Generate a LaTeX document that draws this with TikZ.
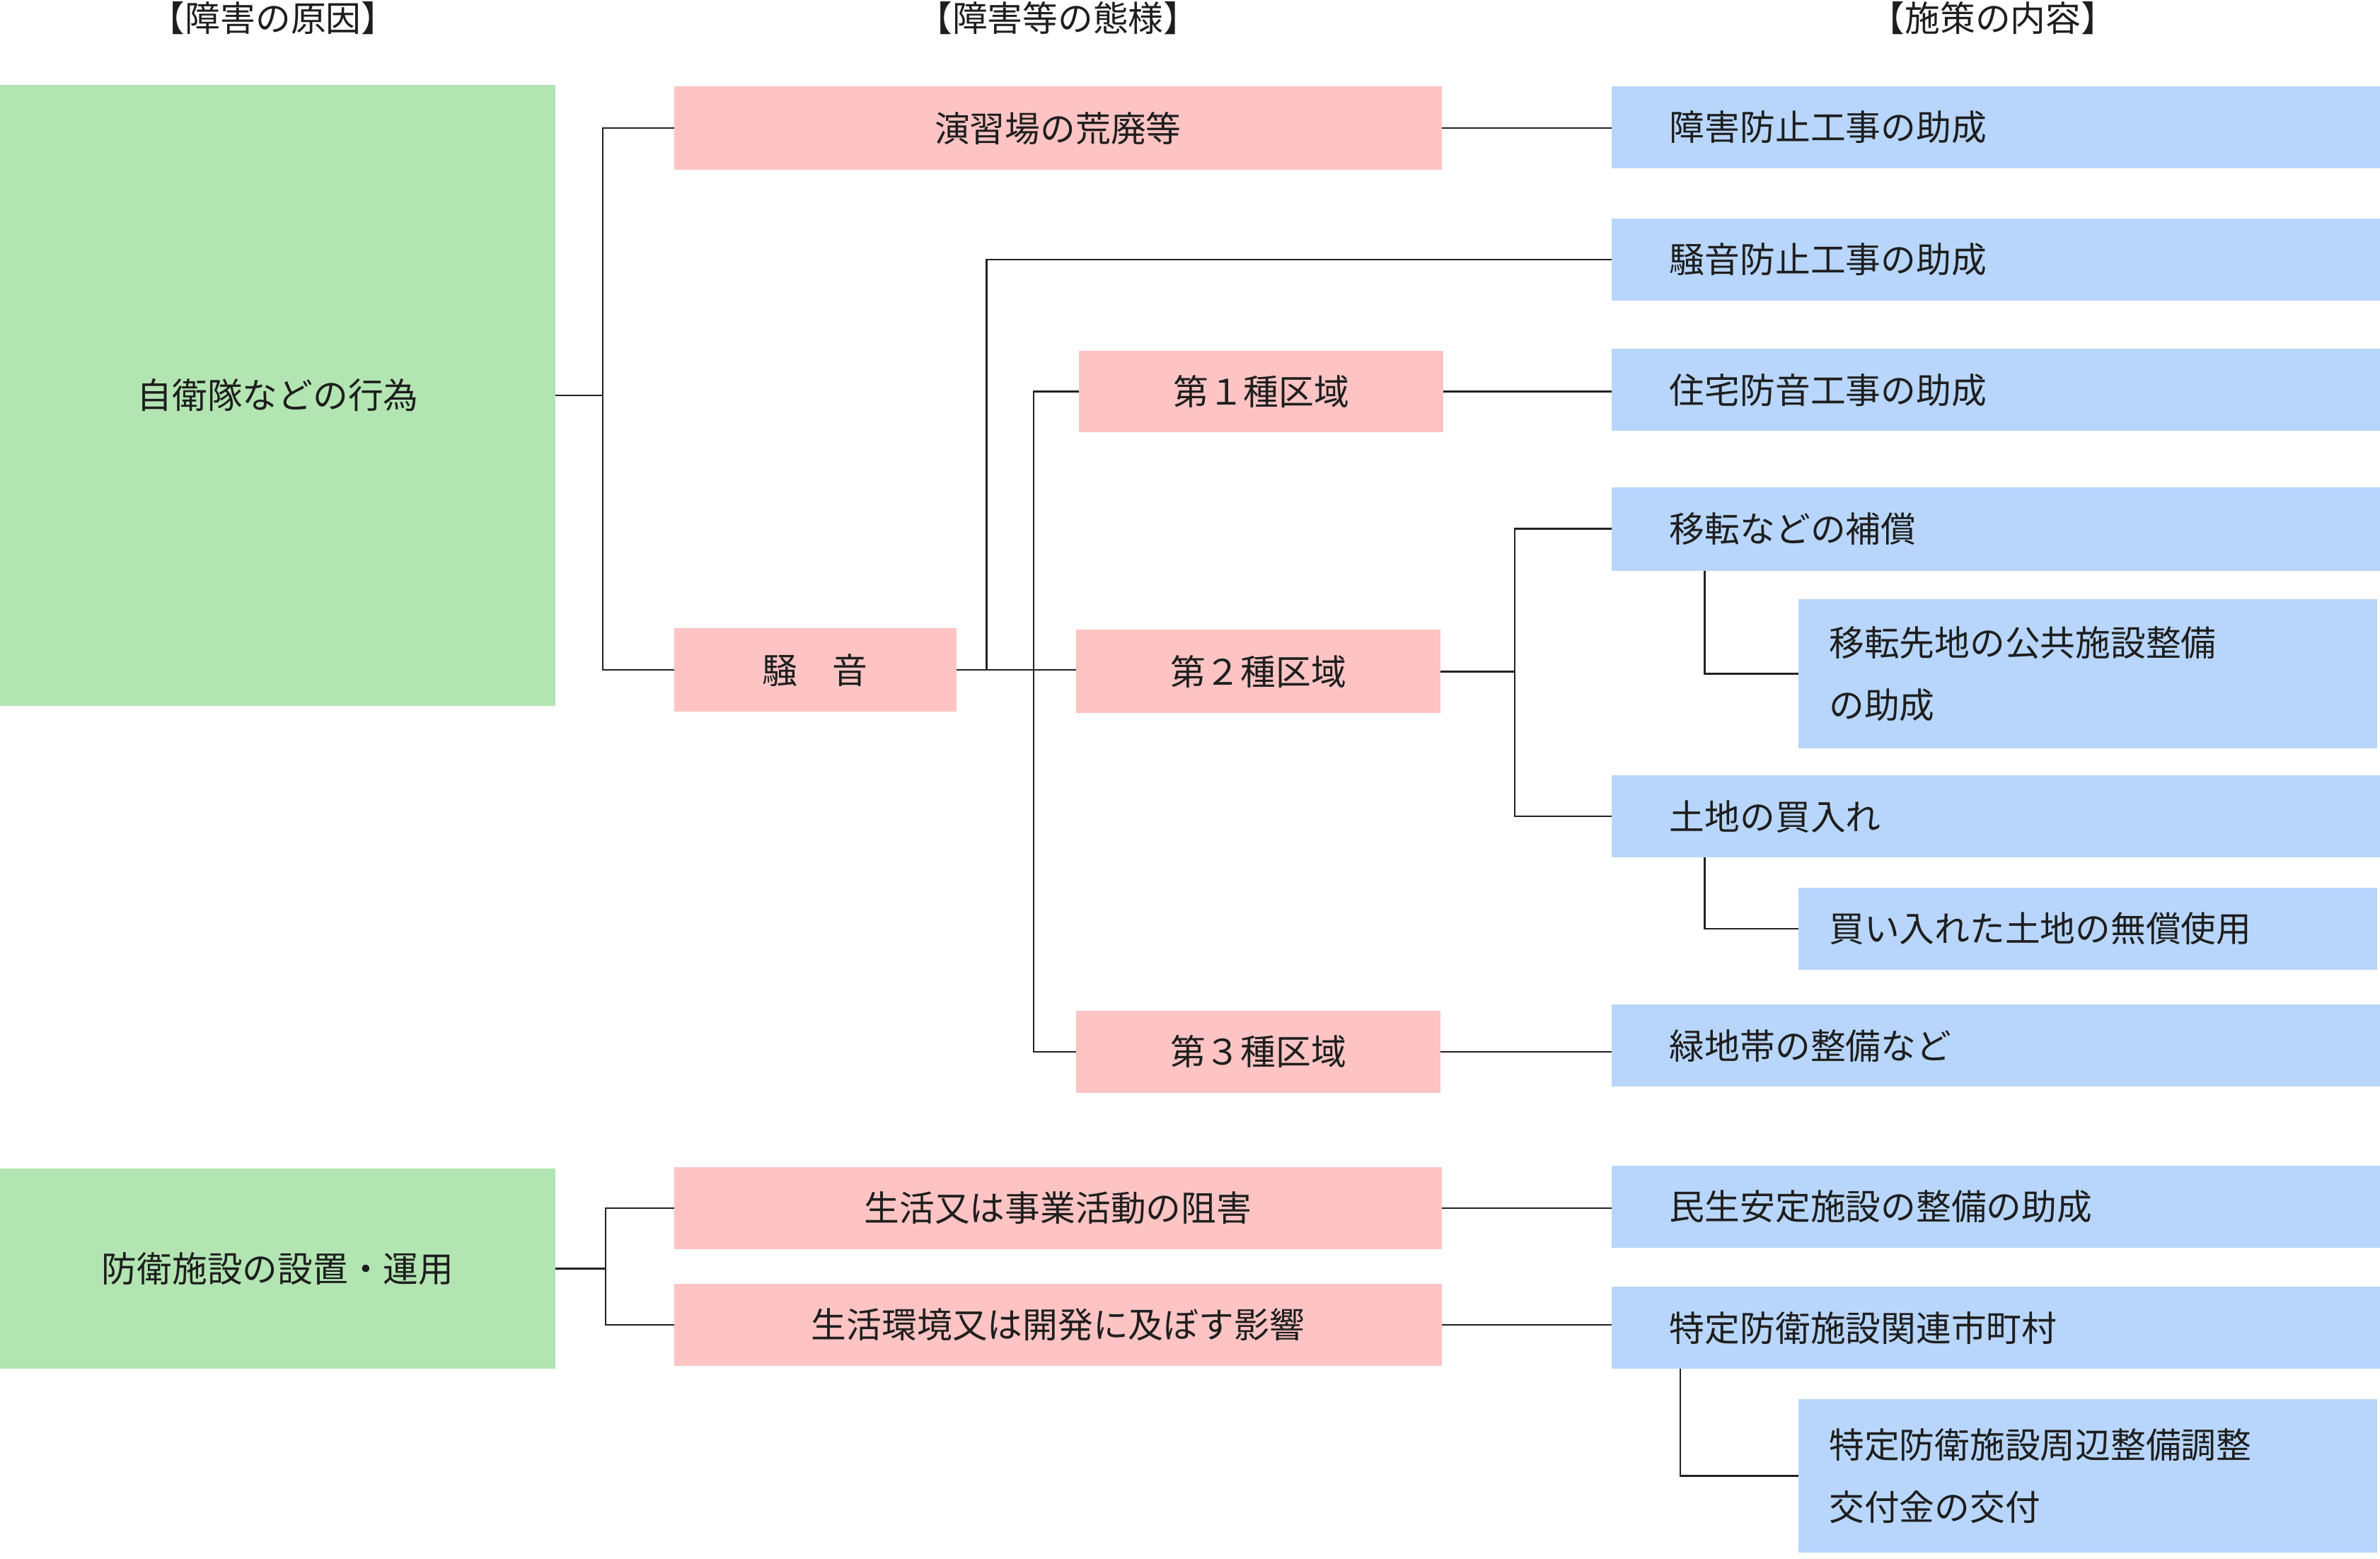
\documentclass[tikz,border=0pt]{standalone}
\usepackage{fontspec}
\setmainfont{Noto Sans CJK JP}
\definecolor{gfill}{HTML}{B3E5B2}
\definecolor{pfill}{HTML}{FEC4C4}
\definecolor{bfill}{HTML}{B8D6FB}
\definecolor{txt}{HTML}{1E1E1E}
\definecolor{linec}{HTML}{222222}
\tikzset{
  base/.style={inner sep=0pt, outer sep=0pt, text=txt, anchor=north west,
    font=\fontsize{23.2}{41}\selectfont},
  gbox/.style={base, fill=gfill, align=center},
  pbox/.style={base, fill=pfill, align=center},
  bbox/.style={base, fill=bfill, align=left, inner xsep=38pt, text width=430pt, minimum width=506pt},
  sbox/.style={base, fill=bfill, align=left, inner xsep=20pt, text width=341pt, minimum width=381pt},
  ttl/.style={inner sep=0pt, text=txt, font=\fontsize{23.2}{27}\selectfont},
  conn/.style={draw=linec, line width=1.1pt},
}
\begin{document}
\begin{tikzpicture}[x=1pt,y=-1pt]
\useasboundingbox (0,0) rectangle (1568,1027);
% titles
\node[ttl] (t1) at (180,12) {【障害の原因】};
\node[ttl] (t2) at (697,12) {【障害等の態様】};
\node[ttl] (t3) at (1313,12) {【施策の内容】};
% green
\node[gbox, minimum width=366pt, minimum height=409pt] (g1) at (0,56) {自衛隊などの行為};
\node[gbox, minimum width=366pt, minimum height=132pt] (g2) at (0,770) {防衛施設の設置・運用};
% pink
\node[pbox, minimum width=506pt, minimum height=55pt] (p1) at (444,57) {演習場の荒廃等};
\node[pbox, minimum width=186pt, minimum height=55pt] (p2) at (444,414) {騒　音};
\node[pbox, minimum width=240pt, minimum height=54pt] (p3) at (711,231) {第１種区域};
\node[pbox, minimum width=240pt, minimum height=55pt] (p4) at (709,415) {第２種区域};
\node[pbox, minimum width=240pt, minimum height=54pt] (p5) at (709,666) {第３種区域};
\node[pbox, minimum width=506pt, minimum height=54pt] (p6) at (444,769) {生活又は事業活動の阻害};
\node[pbox, minimum width=506pt, minimum height=54pt] (p7) at (444,846) {生活環境又は開発に及ぼす影響};
% blue
\node[bbox, minimum height=54pt] (b1) at (1062,57) {障害防止工事の助成};
\node[bbox, minimum height=54pt] (b2) at (1062,144) {騒音防止工事の助成};
\node[bbox, minimum height=54pt] (b3) at (1062,230) {住宅防音工事の助成};
\node[bbox, minimum height=55pt] (b4) at (1062,321) {移転などの補償};
\node[sbox, minimum height=98pt] (b5) at (1185,395) {移転先地の公共施設整備\\の助成};
\node[bbox, minimum height=54pt] (b6) at (1062,511) {土地の買入れ};
\node[sbox, minimum height=54pt] (b7) at (1185,585) {買い入れた土地の無償使用};
\node[bbox, minimum height=54pt] (b8) at (1062,662) {緑地帯の整備など};
\node[bbox, minimum height=54pt] (b9) at (1062,768) {民生安定施設の整備の助成};
\node[bbox, minimum height=54pt] (b10) at (1062,848) {特定防衛施設関連市町村};
\node[sbox, minimum height=101pt] (b11) at (1185,922) {特定防衛施設周辺整備調整\\交付金の交付};
% connectors
\draw[conn] (g1.east) -- ++(31,0);
\draw[conn] (p1.west) -- ++(-47,0) |- (p2.west);
\draw[conn] (p1.east) -- (p1.east -| b1.west);
\draw[conn] (p2.east) -- (p2.east -| p4.west);
\draw[conn] (p2.east) ++(20,0) |- (b2.west);
\draw[conn] (p3.west) -- ++(-30,0) |- (p5.west);
\draw[conn] (p3.east) -- (p3.east -| b3.west);
\draw[conn] (p4.east) -- ++(49,0);
\draw[conn] (b4.west) -- ++(-64,0) |- (b6.west);
\draw[conn] (b4.south west) ++(61,0) |- (b5.west);
\draw[conn] (b6.south west) ++(61,0) |- (b7.west);
\draw[conn] (p5.east) -- (p5.east -| b8.west);
\draw[conn] (g2.east) -- ++(33,0);
\draw[conn] (p6.west) -- ++(-45,0) |- (p7.west);
\draw[conn] (p6.east) -- (p6.east -| b9.west);
\draw[conn] (p7.east) -- (p7.east -| b10.west);
\draw[conn] (b10.south west) ++(45,0) |- (b11.west);
\end{tikzpicture}
\end{document}
